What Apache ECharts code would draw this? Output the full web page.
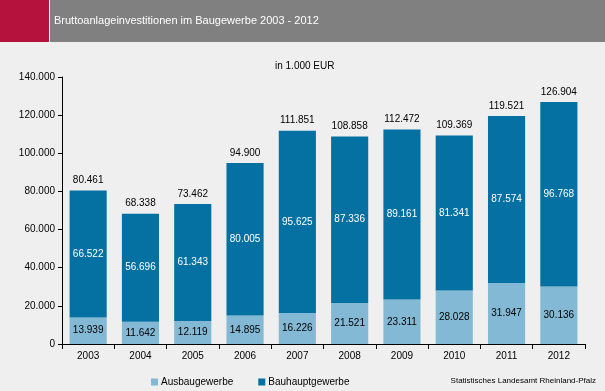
<!DOCTYPE html>
<html><head><meta charset="utf-8">
<script src="https://cdn.jsdelivr.net/npm/echarts@6/dist/echarts.min.js"></script>
<style>html,body{margin:0;padding:0;background:#eeefee}#c{width:605px;height:391px}</style>
</head><body><div id="c"></div>
<script>
var years = ['2003','2004','2005','2006','2007','2008','2009','2010','2011','2012'];
var ausbau = [13939,11642,12119,14895,16226,21521,23311,28028,31947,30136];
var bauhaupt = [66522,56696,61343,80005,95625,87336,89161,81341,87574,96768];
var totals = [80461,68338,73462,94900,111851,108858,112472,109369,119521,126904];
var yTicks = [0,20000,40000,60000,80000,100000,120000,140000];

function fmt(v){ return String(Math.round(v)).replace(/\B(?=(\d{3})+(?!\d))/g,'.'); }

var chart = echarts.init(document.getElementById('c'), null, {renderer:'canvas'});
var font = 'Liberation Sans, Arial, sans-serif';
chart.setOption({
  backgroundColor:'#eeefee',
  animation:false,
  graphic:[
    {type:'rect', shape:{x:0,y:0,width:605,height:42}, style:{fill:'#808080'}},
    {type:'rect', shape:{x:0,y:0,width:49,height:42}, style:{fill:'#b5123e'}},
    {type:'rect', shape:{x:49,y:0,width:1,height:42}, style:{fill:'#ffffff'}},
    {type:'text', left:54, top:15, style:{text:'Bruttoanlageinvestitionen im Baugewerbe 2003 - 2012', fill:'#ffffff', font:'11px '+font}},
    {type:'text', left:275, top:61, style:{text:'in 1.000 EUR', fill:'#000000', font:'10px '+font}},
    {type:'text', right:9, top:377, style:{text:'Statistisches Landesamt Rheinland-Pfalz', fill:'#000000', font:'8px '+font}}
  ],
  legend:{
    left:146, top:372, itemWidth:7, itemHeight:7, itemGap:25,
    icon:'rect',
    textStyle:{fontFamily:font, fontSize:10, color:'#000', padding:[0,0,0,-2]},
    data:['Ausbaugewerbe','Bauhauptgewerbe']
  },
  grid:{left:62, right:20, top:77, bottom:47},
  xAxis:{
    type:'category', data:years,
    axisLine:{lineStyle:{color:'#000'}},
    axisTick:{show:true, length:5, lineStyle:{color:'#000'}},
    axisLabel:{color:'#000', fontFamily:font, fontSize:10, margin:7}
  },
  yAxis:{
    type:'value', min:0, max:140000, interval:20000,
    axisLine:{show:true, lineStyle:{color:'#000'}},
    axisTick:{show:true, length:4, lineStyle:{color:'#000'}},
    splitLine:{show:false},
    axisLabel:{color:'#000', fontFamily:font, fontSize:10, margin:7, formatter:function(v){return fmt(v);}}
  },
  series:[
    {name:'Ausbaugewerbe', type:'bar', stack:'s', data:ausbau, barWidth:'71%',
     itemStyle:{color:'#84b9d5'},
     label:{show:true, position:'inside', color:'#000', fontFamily:font, fontSize:10, formatter:function(p){return fmt(p.value);}}},
    {name:'Bauhauptgewerbe', type:'bar', stack:'s', data:bauhaupt, barWidth:'71%',
     itemStyle:{color:'#0570a2'},
     label:{show:true, position:'inside', color:'#fff', fontFamily:font, fontSize:10, formatter:function(p){return fmt(p.value);}}},
    {name:'Gesamt', type:'bar', stack:'s', data:totals.map(function(){return 0;}), barWidth:'71%',
     itemStyle:{color:'transparent'}, legendHoverLink:false,
     label:{show:true, position:'top', distance:5, color:'#000', fontFamily:font, fontSize:10,
       formatter:function(p){return fmt(totals[p.dataIndex]);}}}
  ]
});
</script></body></html>
